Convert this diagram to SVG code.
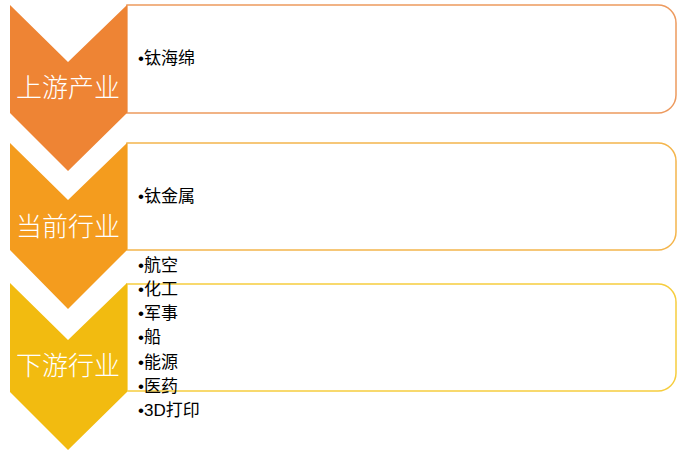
<svg xmlns="http://www.w3.org/2000/svg" width="690" height="457" viewBox="0 0 690 457">
<style>
.box{fill:#fff;stroke-width:1.5}
.lbl{font-family:"Noto Sans CJK SC","Noto Sans",sans-serif;font-size:26px;fill:#fff;text-anchor:middle;font-weight:300}
.item{font-family:"Liberation Sans","Noto Sans CJK SC",sans-serif;font-size:17px;fill:#000}
</style>
<rect width="690" height="457" fill="#fff"/>
<g id="box1"><path class="box" stroke="#ED9A5E" d="M127,5 H658 A18,18 0 0 1 676,23 V95 A18,18 0 0 1 658,113 H127 Z"/></g>
<g id="box2"><path class="box" stroke="#F4B54C" d="M127,143 H658 A18,18 0 0 1 676,161 V232 A18,18 0 0 1 658,250 H127 Z"/></g>
<g id="box3"><path class="box" stroke="#F6CD3E" d="M127,284 H658 A18,18 0 0 1 676,302 V373 A18,18 0 0 1 658,391 H127 Z"/></g>
<g id="chevron1"><path fill="#EE8434" d="M10,5 L68,62 L127,5 L127,113 L68,171 L10,113 Z"/><text class="lbl" x="68" y="97">上游产业</text></g>
<g id="chevron2"><path fill="#F49C1E" d="M10,143 L68,200 L127,143 L127,250 L68,309 L10,250 Z"/><text class="lbl" x="68" y="236">当前行业</text></g>
<g id="chevron3"><path fill="#F2BB10" d="M10,283 L68,340 L127,283 L127,392 L68,450 L10,392 Z"/><text class="lbl" x="68" y="375">下游行业</text></g>
<g id="items1"><text class="item" x="138" y="64">•钛海绵</text></g>
<g id="items2"><text class="item" x="138" y="202">•钛金属</text></g>
<g id="items3">
<text class="item" x="138" y="271">•航空</text>
<text class="item" x="138" y="295">•化工</text>
<text class="item" x="138" y="319">•军事</text>
<text class="item" x="138" y="343">•船</text>
<text class="item" x="138" y="368">•能源</text>
<text class="item" x="138" y="392">•医药</text>
<text class="item" x="138" y="416">•3D打印</text>
</g>
<g id="connectors"></g>
</svg>
